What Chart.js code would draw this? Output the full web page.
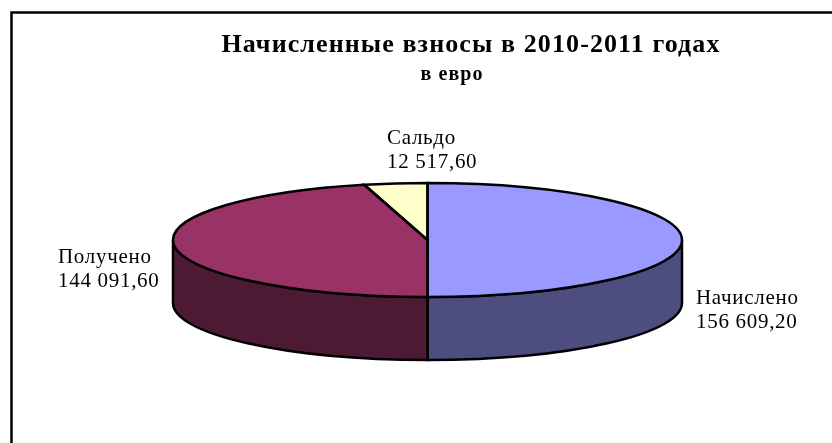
<!DOCTYPE html>
<html lang="ru">
<head>
<meta charset="utf-8">
<title>Начисленные взносы</title>
<script src="https://cdn.jsdelivr.net/npm/chart.js@4"></script>
<style>
  html, body { margin: 0; padding: 0; background: #fff; }
  canvas { display: block; }
</style>
</head>
<body>
<canvas id="pie" width="832" height="443"></canvas>
<script>
const categories = ["Начислено", "Получено", "Сальдо"];
const values = [156609.20, 144091.60, 12517.60];
const topColors = ["#9999FF", "#993366", "#FFFFCC"];
const wallColors = ["#4D4D80", "#4D1A33", "#808066"];

// the flattened disc on the page
const disc = { cx: 427.5, cy: 240, rx: 254.5, ry: 57, depth: 63 };
// left edge and first baseline of each label
const labelPos = [[696, 304], [58, 263], [387, 144]];

const money = v => v.toFixed(2).replace(".", ",").replace(/\B(?=(\d{3})+,)/g, " ");

const pie3d = {
  id: "pie3d",
  afterLayout(chart) {
    // title and subtitle are not centred on the same axis in the original
    const subtitle = chart.boxes.find(b => b !== chart.titleBlock && b.options && b.options.text === "в евро");
    chart.titleBlock.left = 110; chart.titleBlock.right = 832;
    if (subtitle) { subtitle.left = 72; subtitle.right = 832; }
  },
  beforeDraw(chart) {
    const ctx = chart.ctx;
    ctx.save();
    ctx.fillStyle = "#fff";
    ctx.fillRect(0, 0, 832, 443);
    ctx.strokeStyle = "#000";
    ctx.lineWidth = 2.5;
    ctx.beginPath();
    ctx.moveTo(11.5, 443);
    ctx.lineTo(11.5, 12.5);
    ctx.lineTo(832, 12.5);
    ctx.stroke();
    ctx.restore();
    ctx.letterSpacing = "1.1px";
  },
  beforeDatasetsDraw(chart) {
    const ctx = chart.ctx;
    const arcs = chart.getDatasetMeta(0).data;
    const { cx, cy, rx, ry, depth } = disc;
    // side wall, only the front half can be seen
    arcs.forEach((arc, i) => {
      const a1 = Math.max(arc.startAngle, 0);
      const a2 = Math.min(arc.endAngle, Math.PI);
      if (a2 <= a1) return;
      ctx.beginPath();
      ctx.ellipse(cx, cy, rx, ry, 0, a1, a2);
      ctx.ellipse(cx, cy + depth, rx, ry, 0, a2, a1, true);
      ctx.closePath();
      ctx.fillStyle = wallColors[i];
      ctx.fill();
      ctx.strokeStyle = "#000";
      ctx.lineWidth = 2.5;
      ctx.stroke();
    });
    const a = arcs[0];
    ctx.save();
    ctx.translate(cx, cy);
    ctx.scale(rx / a.outerRadius, ry / a.outerRadius);
    ctx.translate(-a.x, -a.y);
  },
  afterDatasetsDraw(chart) {
    const ctx = chart.ctx;
    ctx.restore();
    const { cx, cy, rx, ry } = disc;
    chart.getDatasetMeta(0).data.forEach(arc => {
      ctx.beginPath();
      ctx.moveTo(cx, cy);
      ctx.ellipse(cx, cy, rx, ry, 0, arc.startAngle, arc.endAngle);
      ctx.closePath();
      ctx.strokeStyle = "#000";
      ctx.lineWidth = 2.5;
      ctx.stroke();
    });
    // labels
    ctx.save();
    ctx.fillStyle = "#000";
    ctx.font = '21px "Liberation Serif"';
    ctx.letterSpacing = "0.7px";
    ctx.textAlign = "left";
    ctx.textBaseline = "alphabetic";
    categories.forEach((name, i) => {
      const [x, y] = labelPos[i];
      ctx.fillText(name, x, y);
      ctx.fillText(money(values[i]), x, y + 24);
    });
    ctx.restore();
  }
};

new Chart(document.getElementById("pie"), {
  type: "pie",
  data: {
    labels: categories,
    datasets: [{
      data: values,
      backgroundColor: topColors,
      borderWidth: 0,
      clip: false
    }]
  },
  plugins: [pie3d],
  options: {
    responsive: false,
    animation: false,
    events: [],
    layout: { padding: { top: 30, bottom: 10, left: 200, right: 200 } },
    plugins: {
      legend: { display: false },
      tooltip: { enabled: false },
      title: {
        display: true,
        text: "Начисленные взносы в 2010-2011 годах",
        color: "#000",
        font: { family: '"Liberation Serif"', size: 26, weight: "bold" },
        padding: { top: 0, bottom: 0 }
      },
      subtitle: {
        display: true,
        text: "в евро",
        color: "#000",
        font: { family: '"Liberation Serif"', size: 20, weight: "bold" },
        padding: { top: 2, bottom: 0 }
      }
    }
  }
});
</script>
</body>
</html>
